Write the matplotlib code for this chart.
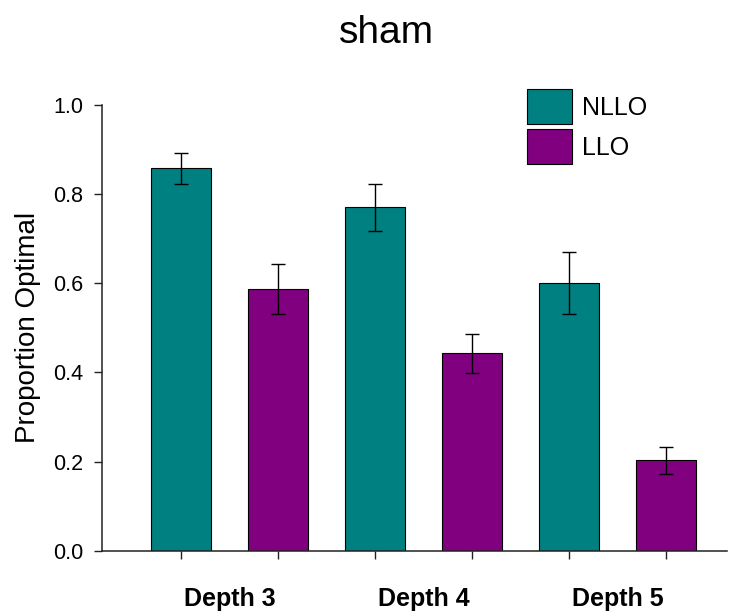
import matplotlib
matplotlib.use('Agg')
import matplotlib.pyplot as plt
import matplotlib.transforms as mtransforms
import numpy as np

plt.rcParams['font.family'] = ['Liberation Sans', 'DejaVu Sans']

# dane
depths = ['Depth 3', 'Depth 4', 'Depth 5']
nllo = [0.857, 0.770, 0.600]
nllo_err = [0.035, 0.052, 0.070]
llo = [0.587, 0.443, 0.203]
llo_err = [0.057, 0.044, 0.031]
yticks = [0.0, 0.2, 0.4, 0.6, 0.8, 1.0]

teal = '#008080'
purple = '#800080'

fig = plt.figure(figsize=(7.3, 6.12), dpi=100)
ax = fig.add_axes([0.1397, 0.0997, 0.996 - 0.1397, 0.829 - 0.0997])

x_n = np.arange(len(depths)) * 2
x_l = x_n + 1
w = 0.62
err_kw = dict(ecolor='black', elinewidth=1.0, capsize=4.7, capthick=1.0)
ax.bar(x_n, nllo, w, yerr=nllo_err, color=teal, edgecolor='black',
       linewidth=0.8, label='NLLO', error_kw=err_kw)
ax.bar(x_l, llo, w, yerr=llo_err, color=purple, edgecolor='black',
       linewidth=0.8, label='LLO', error_kw=err_kw)

ax.set_xlim(-0.815, 5.63)
ax.set_ylim(0, 1.0)
ax.set_yticks(yticks)
ax.set_yticklabels(['%.1f' % t for t in yticks], fontsize=15.5)
ax.set_xticks(np.sort(np.concatenate([x_n, x_l])))
ax.set_xticklabels([])
ax.tick_params(axis='both', direction='out', length=5.5, width=1.0, color='#222222')
ax.tick_params(axis='y', pad=8)
for s in ['top', 'right']:
    ax.spines[s].set_visible(False)
for s in ['left', 'bottom']:
    ax.spines[s].set_linewidth(1.1)
    ax.spines[s].set_color('#222222')

ax.set_ylabel('Proportion Optimal', fontsize=20)
ax.yaxis.set_label_coords(-0.097, 0.5)

# podpisy grup pod osią
trans = mtransforms.blended_transform_factory(ax.transData, fig.transFigure)
for xc, name in zip((x_n + x_l) / 2, depths):
    ax.text(xc, 1 - 599 / 612, name, transform=trans, ha='center', va='center',
            fontsize=18, fontweight='bold')

fig.text(386 / 730, 1 - 43 / 612, 'sham', ha='center', va='baseline', fontsize=28)

leg = ax.legend(loc='upper left', bbox_to_anchor=(527 / 730, 1 - 89 / 612),
                bbox_transform=fig.transFigure, frameon=False, fontsize=18,
                borderpad=0, borderaxespad=0, handlelength=1.8, handleheight=1.78,
                handletextpad=0.42, labelspacing=0.2)

fig.savefig('out.png', dpi=100)
